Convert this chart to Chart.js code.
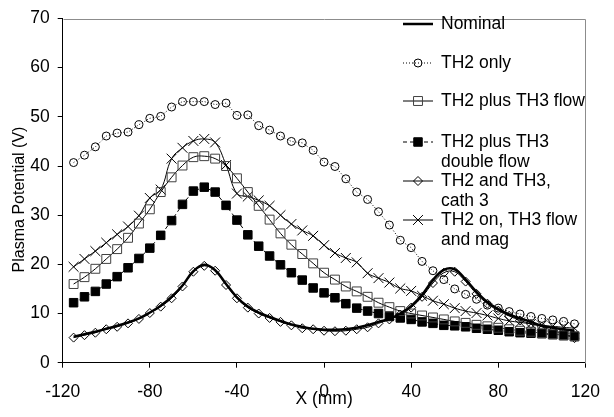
<!DOCTYPE html>
<html lang="en">
<head>
  <meta charset="UTF-8">
  <title>Plasma Potential</title>
  <script src="https://cdn.jsdelivr.net/npm/chart.js"></script>
  <style>
    html, body { margin: 0; padding: 0; background: #fff; }
    canvas { display: block; }
  </style>
</head>
<body>
  <canvas id="potentialChart" width="614" height="417"></canvas>

  <script>
    // probe positions along X (mm)
    var xPos = [-115, -110, -105, -100, -95, -90, -85, -80, -75, -70, -65, -60, -55, -50, -45, -40,
                -35, -30, -25, -20, -15, -10, -5, 0, 5, 10, 15, 20, 25, 30, 35, 40,
                45, 50, 55, 60, 65, 70, 75, 80, 85, 90, 95, 100, 105, 110, 115];

    // plasma potential (V) for each case
    var nominal = [5.3, 5.8, 6.3, 6.9, 7.5, 8.2, 9.0, 10.2, 11.6, 13.4, 15.7, 18.6, 19.9, 18.8, 16.0, 13.3,
                   11.4, 10.2, 9.3, 8.5, 7.8, 7.3, 6.9, 6.7, 6.7, 6.8, 7.1, 7.6, 8.3, 8.9, 10.0, 11.5,
                   13.8, 16.8, 18.9, 19.0, 16.9, 14.4, 12.3, 10.9, 9.8, 9.0, 8.3, 7.5, 7.1, 6.8, 6.5];

    var th2Only = [40.7, 42.2, 43.9, 46.1, 46.7, 46.9, 48.4, 49.7, 50.1, 52.0, 53.1, 53.1, 53.1, 52.5, 52.8, 50.3,
                   50.4, 48.2, 47.3, 46.1, 45.0, 44.7, 43.2, 40.8, 39.9, 37.4, 34.7, 33.2, 30.7, 28.0, 24.9, 23.4,
                   20.6, 18.7, 16.9, 15.0, 13.9, 12.9, 11.7, 11.1, 10.4, 9.9, 9.4, 9.0, 8.7, 8.4, 7.9];

    var th3Flow = [16.0, 17.4, 19.1, 21.1, 23.1, 25.4, 28.3, 31.2, 34.7, 37.7, 40.1, 41.8, 42.0, 41.5, 40.0, 37.5,
                   34.7, 31.9, 29.1, 26.3, 24.0, 22.1, 20.2, 18.3, 16.9, 15.5, 14.5, 13.4, 12.2, 11.3, 10.5, 10.0,
                   9.6, 9.2, 8.8, 8.4, 8.1, 7.7, 7.4, 7.1, 6.8, 6.5, 6.3, 6.0, 5.8, 5.6, 5.4];

    var th3DoubleFlow = [12.2, 13.4, 14.5, 16.0, 17.5, 19.3, 21.2, 23.3, 25.9, 28.9, 32.2, 34.9, 35.7, 34.7, 32.0, 29.0,
                         26.0, 23.7, 21.7, 19.9, 18.3, 16.8, 15.2, 14.2, 13.2, 12.0, 11.1, 10.5, 10.0, 9.4, 9.1, 8.8,
                         8.3, 8.0, 7.6, 7.5, 7.3, 7.0, 6.8, 6.6, 6.3, 6.1, 6.0, 5.9, 5.7, 5.5, 5.3];

    var cath3 = [5.1, 5.6, 6.1, 6.8, 7.3, 8.0, 8.9, 10.1, 11.4, 13.1, 15.5, 18.5, 19.7, 18.7, 15.8, 13.1,
                 11.2, 10.0, 9.1, 8.3, 7.6, 7.0, 6.8, 6.5, 6.4, 6.5, 6.8, 7.2, 8.0, 8.8, 9.8, 11.2,
                 13.4, 16.2, 18.3, 18.5, 16.5, 14.0, 12.0, 10.6, 9.5, 8.6, 7.9, 7.3, 6.5, 5.9, 5.0];

    var flowAndMag = [19.5, 21.1, 22.7, 24.4, 26.1, 27.7, 29.9, 33.5, 35.2, 41.5, 43.7, 45.1, 45.5, 44.8, 40.2, 34.4,
                      33.8, 33.0, 31.9, 30.0, 28.2, 26.9, 25.8, 23.9, 22.3, 21.3, 20.4, 18.2, 17.2, 16.3, 15.1, 14.6,
                      13.6, 12.6, 11.9, 11.1, 10.5, 10.1, 9.6, 9.0, 8.5, 8.2, 7.9, 7.6, 7.4, 7.2, 7.0];

    var legendLines = [
      ['Nominal'],
      ['TH2 only'],
      ['TH2 plus TH3 flow'],
      ['TH2 plus TH3', 'double flow'],
      ['TH2 and TH3,', 'cath 3'],
      ['TH2 on, TH3 flow', 'and mag']
    ];

    var fontFamily = '"Liberation Sans", Arial, sans-serif';
    Chart.defaults.font.family = fontFamily;
    Chart.defaults.color = '#000';

    function toPoints(values) {
      return values.map(function (v, i) { return { x: xPos[i], y: v }; });
    }

    // grey frame on top and right like the excel plot area
    var plotFrame = {
      id: 'plotFrame',
      beforeDatasetsDraw: function (chart) {
        var a = chart.chartArea, ctx = chart.ctx;
        ctx.save();
        ctx.strokeStyle = '#8c8c8c';
        ctx.lineWidth = 1;
        ctx.beginPath();
        ctx.moveTo(Math.round(a.left) + 0.5, Math.round(a.top) + 0.5);
        ctx.lineTo(Math.round(a.right) + 0.5, Math.round(a.top) + 0.5);
        ctx.lineTo(Math.round(a.right) + 0.5, Math.round(a.bottom) + 0.5);
        ctx.stroke();
        ctx.restore();
      }
    };

    // legend inside the plot, line sample + marker, multi line labels
    var sideLegend = {
      id: 'sideLegend',
      afterDraw: function (chart) {
        var ctx = chart.ctx;
        var rows = [24, 63, 101, 142, 181, 220];
        var x1 = 403, x2 = 433, textX = 441, lineGap = 20.5;
        ctx.save();
        ctx.font = '17.5px ' + fontFamily;
        ctx.textBaseline = 'middle';
        chart.data.datasets.forEach(function (ds, i) {
          var y = rows[i];
          ctx.strokeStyle = ds.borderColor;
          ctx.lineWidth = ds.borderWidth;
          ctx.setLineDash(ds.borderDash || []);
          ctx.beginPath();
          ctx.moveTo(x1, y);
          ctx.lineTo(x2, y);
          ctx.stroke();
          ctx.setLineDash([]);
          if (ds.pointRadius > 0) {
            ctx.strokeStyle = ds.pointBorderColor;
            ctx.fillStyle = ds.pointBackgroundColor;
            ctx.lineWidth = ds.pointBorderWidth;
            Chart.helpers.drawPoint(ctx, {
              pointStyle: ds.pointStyle,
              radius: ds.pointRadius,
              borderWidth: ds.pointBorderWidth,
              rotation: 0
            }, (x1 + x2) / 2, y);
          }
          ctx.fillStyle = '#000';
          legendLines[i].forEach(function (txt, k) {
            ctx.fillText(txt, textX, y + k * lineGap);
          });
        });
        ctx.restore();
      }
    };

    var ctx = document.getElementById('potentialChart').getContext('2d');

    var potentialChart = new Chart(ctx, {
      type: 'line',
      data: {
        datasets: [{
          label: 'Nominal',
          data: toPoints(nominal),
          borderColor: '#000',
          borderWidth: 2.5,
          pointRadius: 0,
          tension: 0.4
        }, {
          label: 'TH2 only',
          data: toPoints(th2Only),
          borderColor: '#000',
          borderWidth: 1,
          borderDash: [1, 2],
          pointStyle: 'circle',
          pointRadius: 4,
          pointBorderWidth: 1,
          pointBorderColor: '#000',
          pointBackgroundColor: 'rgba(255,255,255,0)',
          tension: 0
        }, {
          label: 'TH2 plus TH3 flow',
          data: toPoints(th3Flow),
          borderColor: '#000',
          borderWidth: 1,
          pointStyle: 'rect',
          pointRadius: 6.3,
          pointBorderWidth: 1,
          pointBorderColor: '#404040',
          pointBackgroundColor: 'rgba(255,255,255,0)',
          tension: 0.4
        }, {
          label: 'TH2 plus TH3 double flow',
          data: toPoints(th3DoubleFlow),
          borderColor: '#000',
          borderWidth: 1,
          borderDash: [4, 3],
          pointStyle: 'rect',
          pointRadius: 6,
          pointBorderWidth: 1,
          pointBorderColor: '#000',
          pointBackgroundColor: '#000',
          tension: 0
        }, {
          label: 'TH2 and TH3, cath 3',
          data: toPoints(cath3),
          borderColor: '#000',
          borderWidth: 1,
          pointStyle: 'rectRot',
          pointRadius: 4.5,
          pointBorderWidth: 1,
          pointBorderColor: '#000',
          pointBackgroundColor: 'rgba(255,255,255,0)',
          tension: 0.4
        }, {
          label: 'TH2 on, TH3 flow and mag',
          data: toPoints(flowAndMag),
          borderColor: '#000',
          borderWidth: 1,
          pointStyle: 'crossRot',
          pointRadius: 7,
          pointBorderWidth: 1,
          pointBorderColor: '#000',
          pointBackgroundColor: 'rgba(255,255,255,0)',
          tension: 0.4
        }]
      },
      options: {
        responsive: false,
        animation: false,
        events: [],
        layout: { padding: { left: 0, top: 12.7, right: 16.3, bottom: 0 } },
        plugins: {
          legend: { display: false },
          tooltip: { enabled: false }
        },
        scales: {
          x: {
            type: 'linear',
            min: -120,
            max: 120,
            ticks: { stepSize: 40, padding: 14, maxRotation: 0, color: '#000', font: { size: 17.5 } },
            grid: { display: true, drawOnChartArea: false, drawTicks: true, tickLength: 5, color: '#000' },
            border: { display: true, color: '#000', width: 1 },
            title: { display: true, text: 'X (mm)', color: '#000', font: { size: 17.5 }, padding: { top: 0, bottom: 7 } },
            afterFit: function (scale) { scale.height = 54.3; }
          },
          y: {
            min: 0,
            max: 70,
            ticks: { stepSize: 10, padding: 8, color: '#000', font: { size: 17.5 } },
            grid: { display: true, drawOnChartArea: false, drawTicks: true, tickLength: 5, color: '#000' },
            border: { display: true, color: '#000', width: 1 },
            title: { display: true, text: 'Plasma Potential (V)    ', color: '#000', font: { size: 16 }, padding: { top: 10, bottom: 0 } },
            afterFit: function (scale) { scale.width = 62.7; }
          }
        }
      },
      plugins: [plotFrame, sideLegend]
    });
  </script>
</body>
</html>
